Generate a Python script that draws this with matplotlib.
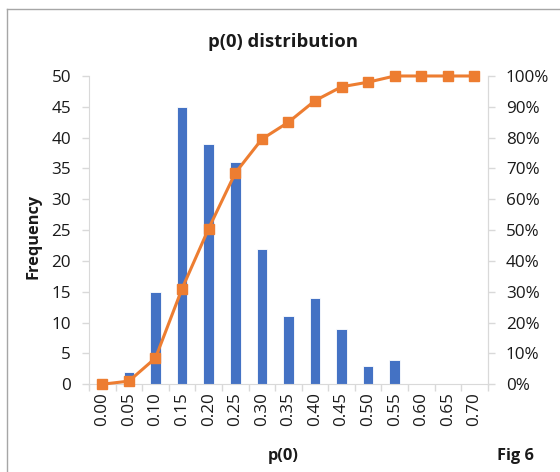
import matplotlib.pyplot as plt
import numpy as np
from matplotlib.lines import Line2D
from matplotlib.ticker import FixedLocator, PercentFormatter

plt.rcParams['font.family'] = ['Open Sans', 'DejaVu Sans']

# data
bins = ['0.00', '0.05', '0.10', '0.15', '0.20', '0.25', '0.30', '0.35',
        '0.40', '0.45', '0.50', '0.55', '0.60', '0.65', '0.70']
frequency = [0, 2, 15, 45, 39, 36, 22, 11, 14, 9, 3, 4, 0, 0, 0]
cumulative = [0, 1, 8.5, 31, 50.5, 68.5, 79.5, 85, 92, 96.5, 98, 100, 100, 100, 100]

grey = '#D9D9D9'
txt = '#1a1a1a'

fig = plt.figure(figsize=(5.6, 4.72), dpi=100)
ax = fig.add_axes([0.159, 0.186, 0.712, 0.653])
ax2 = ax.twinx()

x = np.arange(len(bins))
ax.bar(x, frequency, width=0.4, color='#4472C4', edgecolor='white',
       linewidth=0.6, zorder=2)
ax2.plot(x, cumulative, color='#ED7D31', lw=2.2, marker='s', ms=7.5,
         zorder=3, clip_on=False)

ax.set_xlim(-0.5, len(bins) - 0.5)
ax.set_ylim(0, 50)
ax2.set_ylim(0, 100)
ax.set_yticks(np.arange(0, 51, 5))
ax2.set_yticks(np.arange(0, 101, 10))
ax2.yaxis.set_major_formatter(PercentFormatter(decimals=0))

ax.set_xticks(x)
ax.set_xticklabels(bins, rotation=90)
ax.xaxis.set_minor_locator(FixedLocator(np.arange(-0.5, len(bins), 1)))
ax.tick_params(axis='x', which='major', length=0, pad=6)
ax.tick_params(axis='x', which='minor', length=5, color=grey, width=1)
ax.tick_params(axis='y', length=5, color=grey, width=1, pad=8)
ax2.tick_params(axis='y', length=5, color=grey, width=1, pad=8)
for a in (ax, ax2):
    a.tick_params(labelsize=12.3, labelcolor=txt)
    a.spines['top'].set_visible(False)
    for side in ('left', 'right', 'bottom'):
        a.spines[side].set_color(grey)
ax2.spines['left'].set_visible(False)
ax2.spines['bottom'].set_visible(False)

fig.text(0.505, 0.91, 'p(0) distribution', ha='center', va='center',
         fontsize=13.3, fontweight='bold', color=txt)
fig.text(0.059, 0.50, 'Frequency', ha='center', va='center', rotation=90,
         fontsize=11.8, fontweight='bold', color=txt)
fig.text(0.505, 0.034, 'p(0)', ha='center', va='center',
         fontsize=11.8, fontweight='bold', color=txt)
fig.text(0.92, 0.034, 'Fig 6', ha='center', va='center',
         fontsize=11.8, fontweight='bold', color=txt)

# outer frame (left and top edge visible)
fig.add_artist(Line2D([0.0125, 0.0125], [0, 0.981], color='#A6A6A6', lw=1))
fig.add_artist(Line2D([0.0125, 1], [0.981, 0.981], color='#A6A6A6', lw=1))

plt.savefig('out.png', dpi=100)
plt.close()
